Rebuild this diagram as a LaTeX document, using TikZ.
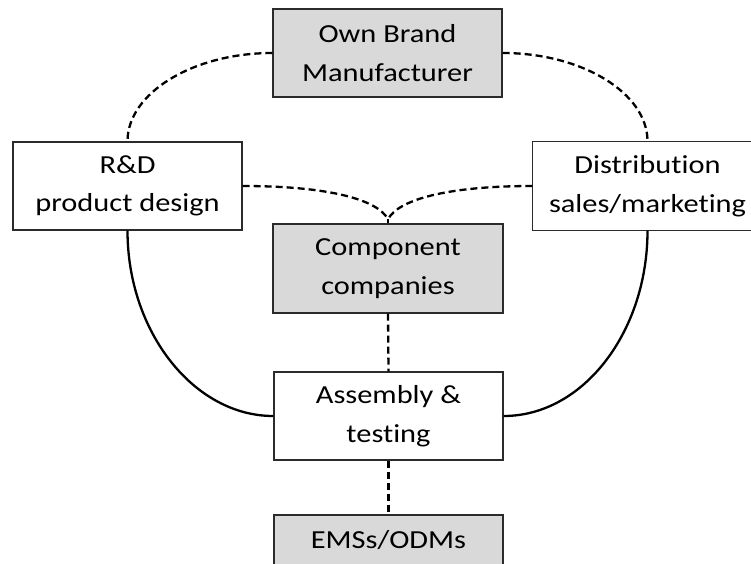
\documentclass[tikz,border=0pt]{standalone}
\usepackage{fontspec}
\setmainfont{Carlito}[FakeStretch=1.17, RawFeature=-liga]
\usetikzlibrary{calc}
\definecolor{boxgray}{HTML}{D9D9D9}
\definecolor{edgegray}{HTML}{2B2B2B}
\tikzset{
  boxnode/.style={draw=edgegray, line width=1.4pt, minimum width=229pt, minimum height=88pt, inner sep=0pt, align=center, font=\fontsize{26}{38.5}\selectfont},
  graybox/.style={boxnode, fill=boxgray},
  dashlink/.style={line width=2.3pt, dash pattern=on 7pt off 4pt},
  solidlink/.style={line width=2.3pt}
}
\begin{document}
\begin{tikzpicture}[x=1pt,y=-1pt]
\useasboundingbox (0,0) rectangle (751,563);
\clip (0,0) rectangle (751,563);
\fill[white] (0,0) rectangle (751,563);
% nodes
\node[graybox] (obm) at (387.5,53) {Own Brand\\Manufacturer};
\node[boxnode] (rd) at (127.5,186) {R\&D\\product design};
\node[boxnode, draw=none] (dist) at (647.5,186) {Distribution\\sales/marketing};
\draw[edgegray, line width=1.4pt] (dist.north west) rectangle ([xshift=-11.5pt]dist.south east);
\node[graybox, minimum width=230pt, minimum height=89pt] (comp) at (388,268.5) {Component\\companies};
\node[boxnode] (asm) at (388.5,416) {Assembly \&\\testing};
\node[graybox, minimum height=50pt] (ems) at (388.5,540) {EMSs/ODMs};
\coordinate (j) at ($(comp.north)+(0,-4)$);
% dashed connectors
\draw[dashlink] (obm.west) .. controls (193,53) and (127.5,93) .. (rd.north);
\draw[dashlink] (obm.east) .. controls (582,53) and (647.5,93) .. (dist.north);
\draw[dashlink] (rd.east) .. controls (330,186) and (378,200) .. (j);
\draw[dashlink] (dist.east -| dist.west) .. controls (446,186) and (398,200) .. (j);
\draw[line width=2.3pt] (j) -- (comp.north);
\draw[dashlink] (comp.south) -- (asm.north);
\draw[dashlink] (asm.south) -- (ems.north);
% solid connectors
\draw[solidlink] (rd.south) .. controls (127.5,332) and (194,416) .. (asm.west);
\draw[solidlink] (dist.south) .. controls (647.5,332) and (583,416) .. (asm.east);
\end{tikzpicture}
\end{document}
